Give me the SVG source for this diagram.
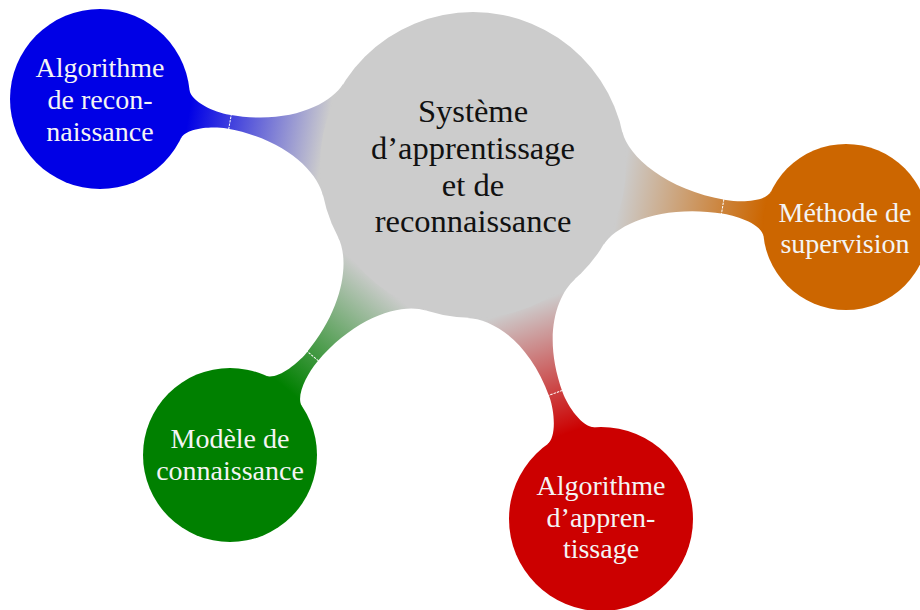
<svg xmlns="http://www.w3.org/2000/svg" width="920" height="610" viewBox="0 0 920 610">
<style>
.t{font-family:"Liberation Serif","Times New Roman",serif;text-anchor:middle}
.main{font-size:32.5px;fill:#111}
.sub{font-size:28px;fill:#f4f4f4}
.tick{stroke:#fff;stroke-width:1;stroke-dasharray:2.5 1;fill:none}
</style>
<defs>
<linearGradient id="gBlue" gradientUnits="userSpaceOnUse" x1="150" y1="0" x2="288.8" y2="0"><stop offset="0" stop-color="#cccccc"/><stop offset="1" stop-color="#0000e6"/></linearGradient>
<linearGradient id="gOrange" gradientUnits="userSpaceOnUse" x1="150" y1="0" x2="295.1" y2="0"><stop offset="0" stop-color="#cccccc"/><stop offset="1" stop-color="#cc6600"/></linearGradient>
<linearGradient id="gGreen" gradientUnits="userSpaceOnUse" x1="150" y1="0" x2="291.4" y2="0"><stop offset="0" stop-color="#cccccc"/><stop offset="1" stop-color="#008000"/></linearGradient>
<linearGradient id="gRed" gradientUnits="userSpaceOnUse" x1="150" y1="0" x2="284.4" y2="0"><stop offset="0" stop-color="#cccccc"/><stop offset="1" stop-color="#cc0000"/></linearGradient>
</defs>
<g id="connectors">
<g transform="translate(473,165) rotate(190.03)">
<path fill="url(#gBlue)" d="M141.9,-57.3 C151.3,-34.1 188.8,-7 248.8,-7 C263.8,-7 289,-13.3 292.3,-24.8 L292.3,24.8 C289,13.3 263.8,7 248.8,7 C188.8,7 151.3,34.1 141.9,57.3 Z"/>
<line class="tick" x1="246.8" y1="-7.5" x2="246.8" y2="7.5"/>
</g>
<g transform="translate(473,165) rotate(9.44)">
<path fill="url(#gOrange)" d="M141.9,-57.3 C151.3,-34.1 195.1,-7 255.1,-7 C270.1,-7 295,-11.4 298.3,-22.9 L298.3,22.9 C295,11.4 270.1,7 255.1,7 C195.1,7 151.3,34.1 141.9,57.3 Z"/>
<line class="tick" x1="253.1" y1="-7.5" x2="253.1" y2="7.5"/>
</g>
<g transform="translate(473,165) rotate(129.97)">
<path fill="url(#gGreen)" d="M141.9,-57.3 C151.3,-34.1 191.4,-7 251.4,-7 C266.4,-7 291.5,-12.5 294.8,-24 L294.8,24 C291.5,12.5 266.4,7 251.4,7 C191.4,7 151.3,34.1 141.9,57.3 Z"/>
<line class="tick" x1="249.4" y1="-7.5" x2="249.4" y2="7.5"/>
</g>
<g transform="translate(473,165) rotate(70.12)">
<path fill="url(#gRed)" d="M141.9,-57.3 C151.3,-34.1 184.4,-7 244.4,-7 C259.4,-7 284.7,-13.9 288,-25.4 L288,25.4 C284.7,13.9 259.4,7 244.4,7 C184.4,7 151.3,34.1 141.9,57.3 Z"/>
<line class="tick" x1="242.4" y1="-7.5" x2="242.4" y2="7.5"/>
</g>
</g>
<g id="central">
<circle cx="473" cy="165" r="153" fill="#cccccc"/>
<text class="t main"><tspan x="473" y="122">Système</tspan><tspan x="473" y="159">d’apprentissage</tspan><tspan x="473" y="196">et de</tspan><tspan x="473" y="232">reconnaissance</tspan></text>
</g>
<g id="reconnaissance">
<circle cx="100" cy="99" r="90" fill="#0000e6"/>
<text class="t sub"><tspan x="100" y="77">Algorithme</tspan><tspan x="100" y="109">de recon-</tspan><tspan x="100" y="141">naissance</tspan></text>
</g>
<g id="supervision">
<circle cx="846" cy="227" r="83" fill="#cc6600"/>
<text class="t sub"><tspan x="845" y="222">Méthode de</tspan><tspan x="845" y="253">supervision</tspan></text>
</g>
<g id="modele">
<circle cx="230" cy="455" r="87" fill="#008000"/>
<text class="t sub"><tspan x="230" y="448">Modèle de</tspan><tspan x="230" y="480">connaissance</tspan></text>
</g>
<g id="apprentissage">
<circle cx="601" cy="519" r="92" fill="#cc0000"/>
<text class="t sub"><tspan x="601" y="495">Algorithme</tspan><tspan x="601" y="527">d’appren-</tspan><tspan x="601" y="558">tissage</tspan></text>
</g>
</svg>
